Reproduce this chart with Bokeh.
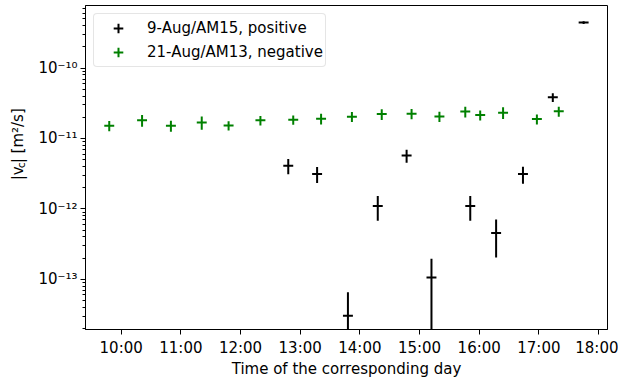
import numpy as np
from bokeh.plotting import figure
from bokeh.layouts import row
from bokeh.models import (ColumnDataSource, FixedTicker, CustomJSTickFormatter,
                          Legend, LegendItem, Range1d)
from bokeh.core.properties import value
from bokeh.embed import file_html
from bokeh.resources import INLINE

# ---------------- data ----------------
# 9-Aug / AM15, positive
pos_time = ["12:48", "13:17", "13:48", "14:18", "14:47", "15:12", "15:51",
            "16:17", "16:44", "17:14", "17:45"]
pos_value = [4.11e-12, 3.13e-12, 3.03e-14, 1.10e-12, 5.72e-12, 1.06e-13,
             1.10e-12, 4.54e-13, 3.13e-12, 3.86e-11, 4.44e-10]
pos_err = [1.0e-12, 0.8e-12, 3.5e-14, 0.42e-12, 1.2e-12, 0.9e-13,
           0.42e-12, 2.5e-13, 0.85e-12, 0.55e-11, 0.2e-10]

# 21-Aug / AM13, negative
neg_time = ["9:48", "10:21", "10:50", "11:21", "11:48", "12:20", "12:53",
            "13:21", "13:52", "14:22", "14:52", "15:20", "15:46", "16:01",
            "16:24", "16:58", "17:20"]
neg_value = [1.52e-11, 1.81e-11, 1.52e-11, 1.69e-11, 1.53e-11, 1.81e-11,
             1.85e-11, 1.91e-11, 2.04e-11, 2.22e-11, 2.25e-11, 2.06e-11,
             2.41e-11, 2.15e-11, 2.33e-11, 1.89e-11, 2.43e-11]
neg_err = [0.25e-11, 0.34e-11, 0.27e-11, 0.36e-11, 0.23e-11, 0.28e-11,
           0.28e-11, 0.33e-11, 0.33e-11, 0.39e-11, 0.37e-11, 0.34e-11,
           0.42e-11, 0.35e-11, 0.44e-11, 0.31e-11, 0.40e-11]

time_err_min = 5  # half-width of the time bins, minutes

xtick_hours = [10, 11, 12, 13, 14, 15, 16, 17, 18]
xtick_labels = ["10:00", "11:00", "12:00", "13:00", "14:00", "15:00",
                "16:00", "17:00", "18:00"]
ytick_values = [1e-13, 1e-12, 1e-11, 1e-10]
ytick_labels = ["10\u207b\u00b9\u00b3", "10\u207b\u00b9\u00b2",
                "10\u207b\u00b9\u00b9", "10\u207b\u00b9\u2070"]

series_names = ["9-Aug/AM15, positive", "21-Aug/AM13, negative"]
series_colors = ["#000000", "#008000"]

# y-axis title pieces: main, subscript, rest
ylabel_parts = ["|v", "c", "| [m\u00b2/s]"]
xlabel = "Time of the corresponding day"

FONT = "DejaVu Sans"
H = 380
TOTAL_W = 618
YLAB_W = 28
MAIN_W = TOTAL_W - YLAB_W


def to_hours(t):
    h, m = t.split(":")
    return int(h) + int(m) / 60.0


def make_source(times, vals, errs):
    x = np.array([to_hours(t) for t in times])
    v = np.array(vals)
    e = np.array(errs)
    dx = time_err_min / 60.0
    lo = v - e
    lo = np.where(lo > 0, lo, 1e-30)
    return ColumnDataSource(dict(x=x, x0=x - dx, x1=x + dx, y=v, ylo=lo, yhi=v + e))


# ---------------- y-axis title strip ----------------
yl = figure(width=YLAB_W, height=H, x_range=Range1d(0, YLAB_W),
            y_range=Range1d(0, H), output_backend="svg", toolbar_location=None,
            x_axis_location=None, y_axis_location=None, min_border=0)
yl.outline_line_color = None
yl.xgrid.visible = False
yl.ygrid.visible = False
yl.background_fill_color = "white"
yl.border_fill_color = "white"
ylab_src = ColumnDataSource(dict(
    x=[17, 21, 17], y=[175, 189, 195], text=ylabel_parts,
    size=["15px", "11px", "15px"]))
yl.text(x="x", y="y", text="text", source=ylab_src, angle=np.pi / 2,
        text_align="left", text_baseline="middle", text_font=value(FONT),
        text_font_size="size", text_color="black")

# ---------------- main plot ----------------
p = figure(width=MAIN_W, height=H, y_axis_type="log",
           x_range=Range1d(9.402, 18.15), y_range=Range1d(1.93e-14, 7.76e-10),
           output_backend="svg", toolbar_location=None,
           min_border_left=57, min_border_right=11, min_border_top=5,
           min_border_bottom=40)
p.xgrid.visible = False
p.ygrid.visible = False
p.outline_line_color = "black"
p.outline_line_width = 1
p.outline_line_alpha = 1
p.background_fill_color = "white"
p.border_fill_color = "white"

legend_items = []
for name, col, (tt, vv, ee) in zip(series_names, series_colors,
                                     [(pos_time, pos_value, pos_err),
                                      (neg_time, neg_value, neg_err)]):
    src = make_source(tt, vv, ee)
    p.segment(x0="x0", y0="y", x1="x1", y1="y", source=src,
              line_color=col, line_width=2)
    p.segment(x0="x", y0="ylo", x1="x", y1="yhi", source=src,
              line_color=col, line_width=2)
    r = p.scatter(x="x", y="y", source=src, marker="cross", size=0,
                  line_color=col, line_width=2)
    legend_items.append(LegendItem(label=name, renderers=[r]))

for ax in (p.xaxis[0], p.yaxis[0]):
    ax.axis_line_color = "black"
    ax.major_tick_line_color = "black"
    ax.minor_tick_line_color = "black"
    ax.major_tick_out = 5
    ax.major_tick_in = 0
    ax.minor_tick_out = 3
    ax.minor_tick_in = 0
    ax.major_label_text_font = FONT
    ax.major_label_text_font_size = "15px"
    ax.major_label_text_color = "black"
    ax.major_label_text_line_height = 1.0
    ax.axis_label_text_font = FONT
    ax.axis_label_text_font_size = "15px"
    ax.axis_label_text_font_style = "normal"
    ax.axis_label_text_color = "black"
    ax.axis_label_text_line_height = 1.0

p.xaxis.ticker = FixedTicker(ticks=xtick_hours)
p.xaxis.major_label_overrides = {h: lab for h, lab in zip(xtick_hours, xtick_labels)}
p.xaxis.minor_tick_line_color = None
p.xaxis.major_label_standoff = 4
p.xaxis.axis_label = xlabel
p.xaxis.axis_label_standoff = 0

minor = []
for d in range(-14, -9):
    for k in range(2, 10):
        minor.append(k * 10.0 ** d)
p.yaxis.ticker = FixedTicker(ticks=ytick_values, minor_ticks=minor)
p.yaxis.formatter = CustomJSTickFormatter(
    args=dict(vals=ytick_values, labels=ytick_labels),
    code="""
    let best = 0, bd = Infinity;
    for (let i = 0; i < vals.length; i++) {
      const d = Math.abs(Math.log10(tick) - Math.log10(vals[i]));
      if (d < bd) { bd = d; best = i; }
    }
    return labels[best];
    """)
p.yaxis.major_label_standoff = 3
p.yaxis.axis_label = None

legend = Legend(items=legend_items, location="top_left")
legend.margin = 8
legend.padding = 2
legend.spacing = 0
legend.glyph_height = 24
legend.label_height = 24
legend.glyph_width = 44
legend.label_standoff = 7
legend.label_text_font = FONT
legend.label_text_font_size = "15px"
legend.label_text_color = "black"
legend.border_line_color = "#cccccc"
legend.border_line_width = 1
legend.background_fill_color = "white"
legend.background_fill_alpha = 0.8
if hasattr(legend, "border_radius"):
    legend.border_radius = 4
p.add_layout(legend)

layout = row(yl, p, spacing=0)
open("out.html", "w").write(file_html(layout, INLINE))
